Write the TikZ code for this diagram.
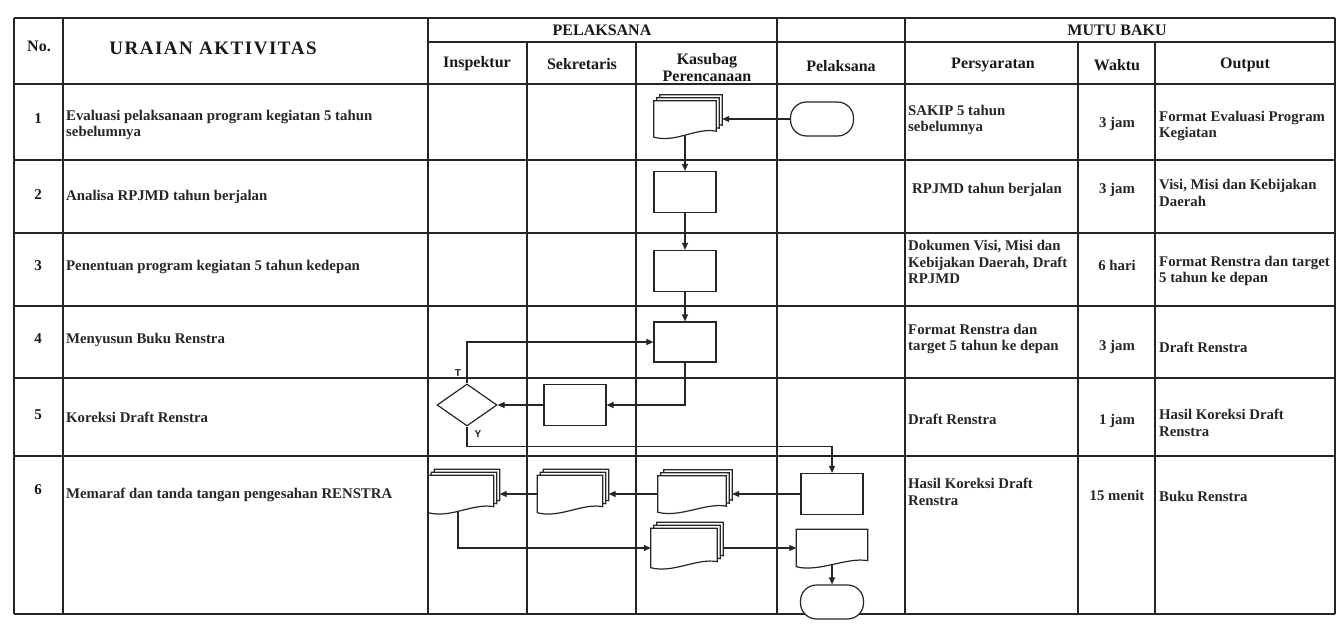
\documentclass[tikz,border=0pt]{standalone}
\usepackage{fontspec}
\setmainfont{Liberation Serif}
\setsansfont{Liberation Sans}
\newfontfamily\spacedfont[LetterSpace=8]{Liberation Serif}
\usetikzlibrary{arrows.meta,shapes.geometric,calc}

\tikzset{
  gridline/.style={draw=black!85, line width=1.3pt},
  shp/.style={draw=black!85, line width=1.2pt, fill=white},
  procbox/.style={shp, rectangle, minimum width=62pt, minimum height=41pt, inner sep=0pt},
  termbox/.style={shp, rectangle, rounded corners=16pt, minimum width=63pt, minimum height=34pt, inner sep=0pt},
  decbox/.style={shp, diamond, minimum width=60pt, minimum height=42pt, inner sep=0pt},
  docarea/.style={rectangle, draw=none, inner sep=0pt},
  conn/.style={draw=black!85, line width=1.1pt, -{Triangle[length=7pt,width=6pt]}},
  hd/.style={font=\fontsize{16}{17}\selectfont\bfseries, text=black!90, inner sep=0pt, align=center},
  txt/.style={font=\fontsize{14.8}{16.5}\selectfont\bfseries, text=black!85, anchor=west, align=left, inner sep=0pt},
  ctxt/.style={font=\fontsize{14.8}{16.5}\selectfont\bfseries, text=black!85, inner sep=0pt},
  numtxt/.style={font=\fontsize{15}{16}\selectfont\bfseries, text=black!90, inner sep=0pt},
  lbl/.style={font=\sffamily\bfseries\fontsize{10}{11}\selectfont, text=black!90, inner sep=0pt}
}

\newcommand{\docpage}[2]{%
  \draw[shp] ([shift={(#2,#2)}]#1.north west) -- ([shift={(#2,#2)}]#1.north east)
   -- ([shift={(#2,#2+6pt)}]#1.south east)
   .. controls ([shift={(#2-20pt,#2+10pt)}]#1.south east) and ([shift={(#2+22pt,#2-6pt)}]#1.south west)
   .. ([shift={(#2,#2)}]#1.south west) -- cycle;}
\newcommand{\multidocdraw}[1]{\docpage{#1}{6pt}\docpage{#1}{3pt}\docpage{#1}{0pt}}
\newcommand{\singledocdraw}[1]{\docpage{#1}{0pt}}

\begin{document}
\begin{tikzpicture}[x=1pt,y=-1pt]
\useasboundingbox (0,0) rectangle (1343,626);
\fill[white] (0,0) rectangle (1343,626);

% ---------- table grid ----------
\draw[gridline] (14,18) -- (1335,18);
\draw[gridline] (428,42) -- (1335,42);
\foreach \yy in {84,160,233,306,378,456,614}
  \draw[gridline] (14,\yy) -- (1335,\yy);
\foreach \xx in {14,63,428,777,905,1335}
  \draw[gridline] (\xx,18) -- (\xx,614);
\foreach \xx in {527,636,1078,1155}
  \draw[gridline] (\xx,42) -- (\xx,614);

% ---------- headers ----------
\node[hd] (hNo) at (39,46) {No.};
\node[hd, font=\spacedfont\fontsize{19}{20}\selectfont\bfseries] (hUr) at (213,48) {URAIAN AKTIVITAS};
\node[hd] (hPel) at (602,30) {PELAKSANA};
\node[hd] (hIns) at (477,64) {Inspektur};
\node[hd] (hSek) at (582,64) {Sekretaris};
\node[hd] (hKas) at (707,68) {Kasubag\\Perencanaan};
\node[hd] (hPls) at (841,66) {Pelaksana};
\node[hd] (hMutu) at (1117,30) {MUTU BAKU};
\node[hd] (hPer) at (993,65) {Persyaratan};
\node[hd] (hWak) at (1117,65) {Waktu};
\node[hd] (hOut) at (1245,65) {Output};

% ---------- left columns ----------
\node[numtxt] (n1) at (38,119) {1};
\node[numtxt] (n2) at (38,195) {2};
\node[numtxt] (n3) at (38,266) {3};
\node[numtxt] (n4) at (38,339) {4};
\node[numtxt] (n5) at (38,415) {5};
\node[numtxt] (n6) at (38,490) {6};
\node[txt] (u1) at (66,125) {Evaluasi pelaksanaan program kegiatan 5 tahun\\sebelumnya};
\node[txt] (u2) at (66,197) {Analisa RPJMD tahun berjalan};
\node[txt] (u3) at (66,267) {Penentuan program kegiatan 5 tahun kedepan};
\node[txt] (u4) at (66,340) {Menyusun Buku Renstra};
\node[txt] (u5) at (66,417) {Koreksi Draft Renstra};
\node[txt] (u6) at (66,495) {Memaraf dan tanda tangan pengesahan RENSTRA};

% ---------- right columns ----------
\node[txt] (p1) at (908,120) {SAKIP 5 tahun\\sebelumnya};
\node[ctxt] (w1) at (1117,124) {3 jam};
\node[txt] (o1) at (1159,126) {Format Evaluasi Program\\Kegiatan};
\node[txt] (p2) at (912,190) {RPJMD tahun berjalan};
\node[ctxt] (w2) at (1117,190) {3 jam};
\node[txt] (o2) at (1159,193) {Visi, Misi dan Kebijakan\\Daerah};
\node[txt] (p3) at (908,262) {Dokumen Visi, Misi dan\\Kebijakan Daerah, Draft\\RPJMD};
\node[ctxt] (w3) at (1117,265) {6 hari};
\node[txt] (o3) at (1159,271) {Format Renstra dan target\\5 tahun ke depan};
\node[txt] (p4) at (908,339) {Format Renstra dan\\target 5 tahun ke depan};
\node[ctxt] (w4) at (1117,347) {3 jam};
\node[txt] (o4) at (1159,347) {Draft Renstra};
\node[txt] (p5) at (908,419) {Draft Renstra};
\node[ctxt] (w5) at (1117,421) {1 jam};
\node[txt] (o5) at (1159,423) {Hasil Koreksi Draft\\Renstra};
\node[txt] (p6) at (908,492) {Hasil Koreksi Draft\\Renstra};
\node[ctxt] (w6) at (1117,495) {15 menit};
\node[txt] (o6) at (1159,496) {Buku Renstra};

% ---------- flowchart shapes ----------
\node[docarea, minimum width=62pt, minimum height=36pt] (d1) at (685,119) {};
\multidocdraw{d1}
\node[termbox] (t1) at (822,119) {};
\node[procbox] (b2) at (685,192) {};
\node[procbox] (b3) at (685,271) {};
\node[procbox, minimum height=40pt] (b4) at (685,342) {};
\node[procbox] (b5) at (575,405) {};
\node[decbox] (dia) at (467,405) {};
\node[lbl] (lT) at (458,373) {T};
\node[lbl] (lY) at (478,434) {Y};
\node[procbox] (b6) at (832,494) {};
\node[docarea, minimum width=68pt, minimum height=36pt] (m6k) at (692,494) {};
\multidocdraw{m6k}
\node[docarea, minimum width=65pt, minimum height=37pt] (m6s) at (570,494) {};
\multidocdraw{m6s}
\node[docarea, minimum width=65pt, minimum height=37pt] (m6i) at (461,494) {};
\multidocdraw{m6i}
\node[docarea, minimum width=66pt, minimum height=39pt] (m6k2) at (684,548) {};
\multidocdraw{m6k2}
\node[docarea, minimum width=71pt, minimum height=37pt] (doc6) at (832,548) {};
\singledocdraw{doc6}
\node[termbox] (t2) at (832,602) {};

% ---------- connectors ----------
\draw[conn] (t1.west) -- ([xshift=6pt]d1.east);
\draw[conn] ([yshift=2pt]d1.south) -- (b2.north);
\draw[conn] (b2.south) -- (b3.north);
\draw[conn] (b3.south) -- (b4.north);
\draw[conn] (b4.south) |- (b5.east);
\draw[conn] (b5.west) -- (dia.east);
\draw[conn] (dia.north) |- (b4.west);
\draw[conn] (dia.south) -- ([yshift=-20pt]dia.south) -| (b6.north);
\draw[conn] (b6.west) -- ([xshift=6pt]m6k.east);
\draw[conn] (m6k.west) -- ([xshift=6pt]m6s.east);
\draw[conn] (m6s.west) -- ([xshift=6pt]m6i.east);
\draw[conn] ([xshift=-3pt,yshift=2pt]m6i.south) |- (m6k2.west);
\draw[conn] ([xshift=6pt]m6k2.east) -- (doc6.west);
\draw[conn] ([yshift=2pt]doc6.south) -- (t2.north);
\end{tikzpicture}
\end{document}
